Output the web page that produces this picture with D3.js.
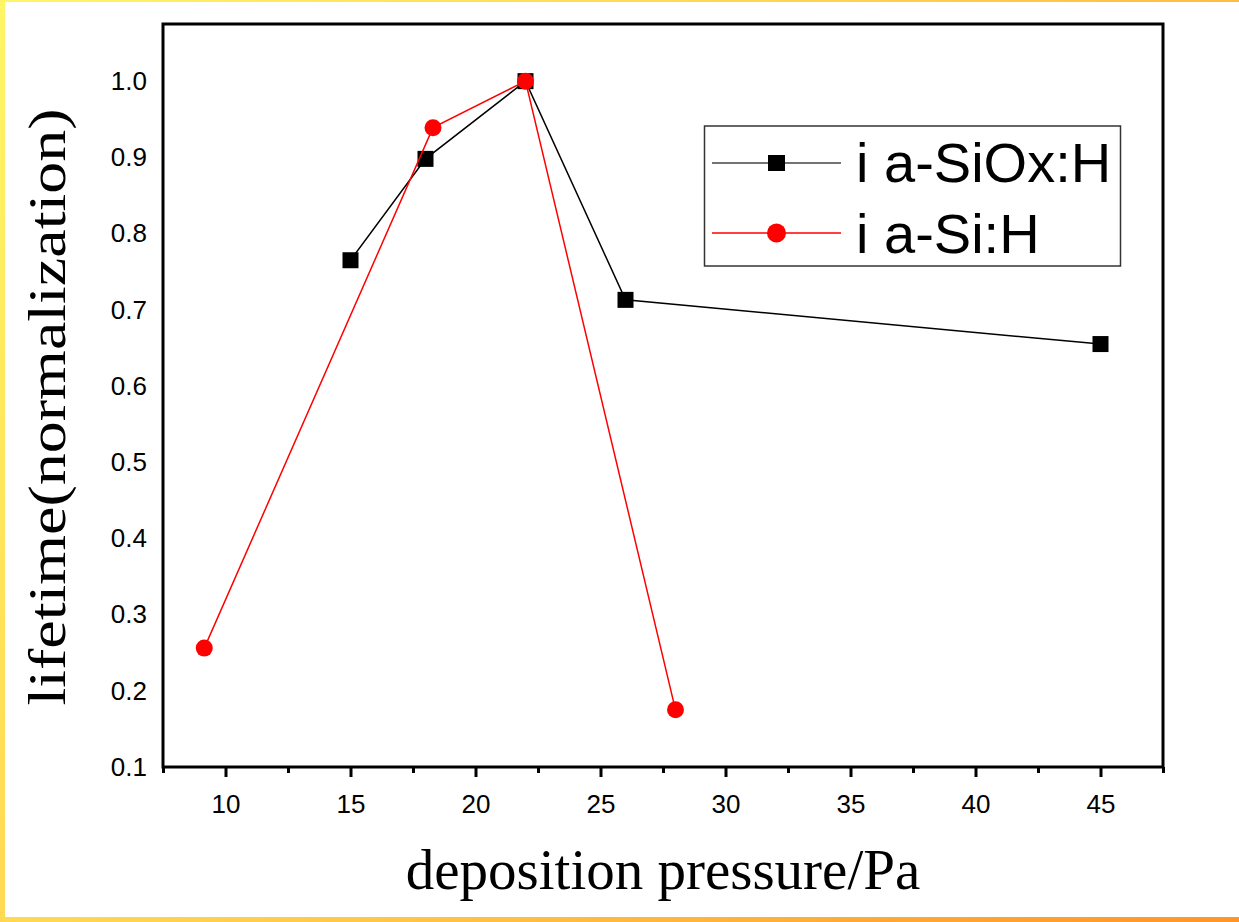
<!DOCTYPE html>
<html>
<head>
<meta charset="utf-8">
<script src="https://cdn.jsdelivr.net/npm/d3@7"></script>
<style>
  html, body { margin: 0; padding: 0; background: #fff; }
  svg { display: block; }
</style>
</head>
<body>
<svg id="chart" width="1239" height="922"></svg>
<script>
// Deposition pressure (Pa) and normalized lifetime for each intrinsic layer
const siox_pressure = [15, 18, 22, 26, 45];
const siox_lifetime = [0.765, 0.898, 1.0, 0.713, 0.655];
const si_pressure = [9.15, 18.3, 22, 28];
const si_lifetime = [0.256, 0.939, 1.0, 0.175];

const xTicks = [10, 15, 20, 25, 30, 35, 40, 45];
const xMinorTicks = [7.5, 12.5, 17.5, 22.5, 27.5, 32.5, 37.5, 42.5, 47.5];
const yTicks = [0.1, 0.2, 0.3, 0.4, 0.5, 0.6, 0.7, 0.8, 0.9, 1.0];
const seriesNames = ["i a-SiOx:H", "i a-Si:H"];

const svg = d3.select("#chart");
const W = 1239, H = 922;

// Frame gradient along the left, top and bottom edges
const defs = svg.append("defs");
const grad = defs.append("linearGradient").attr("id", "edge")
  .attr("gradientUnits", "userSpaceOnUse")
  .attr("x1", 0).attr("y1", 0).attr("x2", W).attr("y2", H);
grad.append("stop").attr("offset", "0%").attr("stop-color", "#fff566");
grad.append("stop").attr("offset", "45%").attr("stop-color", "#ffd24d");
grad.append("stop").attr("offset", "100%").attr("stop-color", "#ff9526");

svg.append("rect").attr("x", 0).attr("y", 0).attr("width", W).attr("height", 2).attr("fill", "url(#edge)");
svg.append("rect").attr("x", 0).attr("y", 0).attr("width", 5).attr("height", H).attr("fill", "url(#edge)");
svg.append("rect").attr("x", 0).attr("y", 917).attr("width", W).attr("height", 5).attr("fill", "url(#edge)");

const plot = { left: 163, top: 24, right: 1163, bottom: 767 };

const x = d3.scaleLinear().domain([7.5, 47.5]).range([plot.left, plot.right]);
const y = d3.scaleLinear().domain([0.1, 1.075]).range([plot.bottom, plot.top]);

const sans = "Liberation Sans, Arial, sans-serif";
const serif = "Liberation Serif, Times New Roman, serif";

// X axis: major ticks with labels, minor ticks between
const xAxis = svg.append("g").attr("transform", `translate(0,${plot.bottom})`)
  .call(d3.axisBottom(x).tickValues(xTicks).tickSize(10).tickPadding(18).tickFormat(d3.format("d")));
xAxis.select(".domain").remove();
xAxis.selectAll("line").attr("stroke", "#000").attr("stroke-width", 3);
xAxis.selectAll("text").attr("font-family", sans).attr("font-size", 26).attr("fill", "#000");

const xMinor = svg.append("g").attr("transform", `translate(0,${plot.bottom})`)
  .call(d3.axisBottom(x).tickValues(xMinorTicks).tickSize(6).tickFormat(""));
xMinor.select(".domain").remove();
xMinor.selectAll("line").attr("stroke", "#000").attr("stroke-width", 3);

// Y axis: labels only
const yAxis = svg.append("g").attr("transform", `translate(${plot.left},0)`)
  .call(d3.axisLeft(y).tickValues(yTicks).tickSize(0).tickPadding(16).tickFormat(d3.format(".1f")));
yAxis.select(".domain").remove();
yAxis.selectAll("text").attr("font-family", sans).attr("font-size", 26).attr("fill", "#000");

// Plot frame
svg.append("rect")
  .attr("x", plot.left).attr("y", plot.top)
  .attr("width", plot.right - plot.left).attr("height", plot.bottom - plot.top)
  .attr("fill", "none").attr("stroke", "#000").attr("stroke-width", 3);

const line = d3.line().x(d => x(d[0])).y(d => y(d[1]));
const siox = siox_pressure.map((p, i) => [p, siox_lifetime[i]]);
const si = si_pressure.map((p, i) => [p, si_lifetime[i]]);

// i a-SiOx:H series (black squares)
svg.append("path").datum(siox).attr("d", line)
  .attr("fill", "none").attr("stroke", "#000").attr("stroke-width", 1.5);
svg.selectAll(".sq").data(siox).join("rect").attr("class", "sq")
  .attr("x", d => x(d[0]) - 8).attr("y", d => y(d[1]) - 8)
  .attr("width", 16).attr("height", 16).attr("fill", "#000");

// i a-Si:H series (red circles)
svg.append("path").datum(si).attr("d", line)
  .attr("fill", "none").attr("stroke", "#ff0000").attr("stroke-width", 1.5);
svg.selectAll(".dot").data(si).join("circle").attr("class", "dot")
  .attr("cx", d => x(d[0])).attr("cy", d => y(d[1])).attr("r", 8.5)
  .attr("fill", "#ff0000");

// Legend
const lg = svg.append("g");
lg.append("rect").attr("x", 704.5).attr("y", 126).attr("width", 416).attr("height", 140)
  .attr("fill", "#fff").attr("stroke", "#333").attr("stroke-width", 1.5);
lg.append("line").attr("x1", 712).attr("x2", 841).attr("y1", 163).attr("y2", 163)
  .attr("stroke", "#444").attr("stroke-width", 1.5);
lg.append("rect").attr("x", 768).attr("y", 155).attr("width", 17).attr("height", 16).attr("fill", "#000");
lg.append("line").attr("x1", 712).attr("x2", 841).attr("y1", 233).attr("y2", 233)
  .attr("stroke", "#ff0000").attr("stroke-width", 1.5);
lg.append("circle").attr("cx", 776.5).attr("cy", 233).attr("r", 9.5).attr("fill", "#ff0000");
lg.selectAll("text").data(seriesNames).join("text")
  .attr("x", 856).attr("y", (d, i) => 182 + i * 71)
  .attr("font-family", sans).attr("font-size", 56)
  .attr("fill", "#000").text(d => d);

// Axis titles
svg.append("text").attr("x", 663).attr("y", 889).attr("text-anchor", "middle")
  .attr("font-family", serif).attr("font-size", 57)
  .attr("fill", "#000").text("deposition pressure/Pa");
svg.append("text").attr("transform", "translate(65,407) rotate(-90) scale(1,0.82)").attr("text-anchor", "middle")
  .attr("font-family", serif).attr("font-size", 64)
  .attr("fill", "#000").text("lifetime(normalization)");
</script>
</body>
</html>
